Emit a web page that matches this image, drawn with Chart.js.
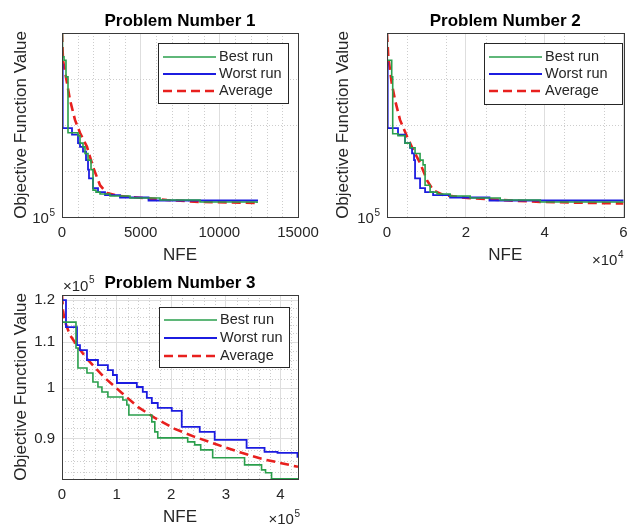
<!DOCTYPE html>
<html>
<head>
<meta charset="utf-8">
<script src="https://cdn.jsdelivr.net/npm/chart.js@4.4.1/dist/chart.umd.min.js"></script>
<style>
  html, body { margin: 0; padding: 0; background: #fff; overflow: hidden; }
  #wrap { position: relative; width: 627px; height: 529px; overflow: hidden; }
  canvas { position: absolute; }
</style>
</head>
<body>
<div id="wrap">
  <canvas id="p1" width="330" height="270" style="left:0px;top:0px"></canvas>
  <canvas id="p2" width="340" height="275" style="left:313px;top:0px"></canvas>
  <canvas id="p3" width="330" height="267" style="left:0px;top:262px"></canvas>
</div>
<script>
// ---- Problem 1 ----
const p1BestX = [0, 32, 127, 254, 381, 1017, 1144, 1335, 1462, 1653, 1844, 1971, 2161, 2416, 3051, 4323, 6230, 8773, 12400];
const p1BestY = [120000, 117200, 116800, 114900, 108700, 108400, 107600, 107200, 106500, 105800, 104800, 102700, 102500, 102300, 102100, 101900, 101700, 101500, 101400];
const p1WorstX = [0, 45, 636, 1017, 1144, 1335, 1526, 1653, 1716, 1971, 2289, 2734, 3687, 5500, 12400];
const p1WorstY = [116300, 109200, 108500, 107600, 107200, 106700, 105800, 104800, 103900, 102900, 102500, 102200, 101950, 101650, 101550];
const p1AvgX = [0, 64, 318, 509, 826, 1144, 1589, 1971, 2416, 2861, 3687, 5149, 6675, 8773, 12400];
const p1AvgY = [120000, 116800, 114200, 112300, 110100, 108700, 107200, 105100, 103200, 102400, 102100, 101900, 101700, 101500, 101400];

// ---- Problem 2 ----
const p2BestX = [0, 76, 1195, 1449, 2796, 4576, 5847, 7118, 8389, 9151, 9660, 10931, 12710, 16015, 21099, 28725, 38893, 60000];
const p2BestY = [120000, 116800, 114900, 108600, 108400, 107600, 107100, 106500, 105800, 105300, 103200, 102500, 102300, 102100, 101900, 101700, 101500, 101400];
const p2WorstX = [0, 178, 2796, 4576, 5847, 6355, 6863, 7118, 8389, 9660, 11693, 16015, 26000, 60000];
const p2WorstY = [116500, 109200, 108500, 107600, 107100, 106500, 105800, 103900, 102900, 102500, 102200, 101950, 101650, 101550];
const p2AvgX = [0, 330, 1195, 2034, 3305, 5084, 6609, 8389, 10168, 11693, 14235, 20336, 28725, 38893, 60000];
const p2AvgY = [120000, 117200, 114200, 112300, 110100, 108300, 106900, 105500, 103700, 102700, 102200, 101900, 101700, 101500, 101350];

// ---- Problem 3 ----
const p3BestX = [0, 300, 25600, 29200, 45700, 56600, 65800, 73100, 84000, 111400, 118700, 122400, 164400, 169900, 175300, 230100, 242900, 253900, 275800, 334200, 365300, 372600, 383600, 432000];
const p3BestY = [120000, 114660, 108650, 104240, 103180, 101260, 100220, 99190, 98170, 97560, 96550, 94570, 93220, 91310, 90180, 89440, 88880, 87960, 86520, 85270, 84390, 83870, 82850, 82850];
const p3WorstX = [0, 7300, 27400, 32900, 45700, 65800, 84000, 93200, 100500, 137000, 147900, 155300, 164400, 175300, 200900, 219200, 252100, 279500, 337900, 370800, 394500, 431000];
const p3WorstY = [120000, 113470, 109320, 108200, 105990, 104890, 103810, 102740, 101050, 100220, 99190, 97970, 96950, 95950, 95360, 92260, 91310, 89810, 88340, 87600, 87420, 86520];
const p3AvgX = [0, 1800, 4600, 9100, 14600, 29200, 47500, 78500, 109600, 138800, 169900, 206400, 242900, 279500, 328800, 365300, 432000];
const p3AvgY = [121200, 117540, 115130, 113470, 111610, 108880, 105990, 102110, 98990, 96160, 93990, 91870, 90370, 89070, 87420, 86340, 84920];

// ---- ticks ----
const p1XTicks = [0, 5000, 10000, 15000];
const p1XLabels = ['0', '5000', '10000', '15000'];
const p2XTicks = [0, 20000, 40000, 60000];
const p2XLabels = ['0', '2', '4', '6'];
const p3XTicks = [0, 100000, 200000, 300000, 400000];
const p3XLabels = ['0', '1', '2', '3', '4'];
const p12YTicks = [100000];
const p3YTicks = [90000, 100000, 110000, 120000];
const p3YLabels = ['0.9', '1', '1.1', '1.2'];

const p1XMinor = [1000, 2000, 3000, 4000, 6000, 7000, 8000, 9000, 11000, 12000, 13000, 14000];
const p2XMinor = [5000, 15000, 25000, 35000, 45000, 55000];
const p3XMinor = [20000, 40000, 60000, 80000, 120000, 140000, 160000, 180000, 220000, 240000, 260000, 280000, 320000, 340000, 360000, 380000, 420000];
const p12YMinor = [104660, 109540, 114650];
const p3YMinor = [84000, 86000, 88000, 92000, 94000, 96000, 98000, 102000, 104000, 106000, 108000, 112000, 114000, 116000, 118000];

const FONT = '"Liberation Sans", Arial, Helvetica, sans-serif';
const AXIS_COLOR = '#262626';
const GREEN = '#2a9f4c';
const BLUE = '#1c1ce0';
const RED = '#e8201e';

Chart.defaults.font.family = FONT;
Chart.defaults.color = AXIS_COLOR;

function toPoints(xs, ys) {
  return xs.map((x, i) => ({ x: x, y: ys[i] }));
}

// draws "10" with a raised exponent, x is left or right edge, y the middle of the base
function drawPower(ctx, base, exp, x, y, align) {
  ctx.save();
  ctx.fillStyle = AXIS_COLOR;
  ctx.textBaseline = 'middle';
  ctx.textAlign = 'left';
  ctx.font = '15px ' + FONT;
  const bw = ctx.measureText(base).width;
  ctx.font = '10px ' + FONT;
  const ew = ctx.measureText(exp).width;
  const x0 = align === 'right' ? x - bw - ew - 0.5 : x;
  ctx.font = '15px ' + FONT;
  ctx.fillText(base, x0, y);
  ctx.font = '10px ' + FONT;
  ctx.fillText(exp, x0 + bw + 0.5, y - 6);
  ctx.restore();
}

const matlabAxes = {
  id: 'matlabAxes',
  beforeDatasetsDraw(chart, args, opts) {
    const { ctx, chartArea: a, scales } = chart;
    ctx.save();
    ctx.strokeStyle = '#cdcdcd';
    ctx.lineWidth = 1;
    ctx.setLineDash([1, 2]);
    ctx.beginPath();
    (opts.xMinor || []).forEach(v => {
      const px = Math.round(scales.x.getPixelForValue(v)) + 0.5;
      ctx.moveTo(px, a.top); ctx.lineTo(px, a.bottom);
    });
    (opts.yMinor || []).forEach(v => {
      const py = Math.round(scales.y.getPixelForValue(v)) + 0.5;
      ctx.moveTo(a.left, py); ctx.lineTo(a.right, py);
    });
    ctx.stroke();
    ctx.restore();
  },
  afterDraw(chart, args, opts) {
    const { ctx, chartArea: a, scales } = chart;
    ctx.save();
    ctx.strokeStyle = '#3a3a3a';
    ctx.lineWidth = 1;
    ctx.strokeRect(Math.round(a.left) + 0.5, Math.round(a.top) + 0.5,
      Math.round(a.right - a.left), Math.round(a.bottom - a.top));

    // legend box
    const lg = opts.legend;
    const lx = Math.round(a.right - lg.right - lg.width);
    const ly = Math.round(a.top + lg.top);
    ctx.fillStyle = '#fff';
    ctx.fillRect(lx, ly, lg.width, lg.height);
    ctx.strokeStyle = '#262626';
    ctx.strokeRect(lx + 0.5, ly + 0.5, lg.width, lg.height);
    chart.data.datasets.forEach((ds, i) => {
      const ry = ly + lg.rows[i];
      ctx.beginPath();
      ctx.strokeStyle = ds.borderColor;
      ctx.lineWidth = ds.borderWidth;
      ctx.setLineDash(ds.borderDash || []);
      ctx.moveTo(lx + 5, ry);
      ctx.lineTo(lx + 58, ry);
      ctx.stroke();
      ctx.setLineDash([]);
      ctx.fillStyle = AXIS_COLOR;
      ctx.font = '14.5px ' + FONT;
      ctx.textBaseline = 'middle';
      ctx.textAlign = 'left';
      ctx.fillText(ds.label, lx + 61, ry);
    });
    ctx.restore();

    (opts.powers || []).forEach(p => {
      if (p.kind === 'ytick') {
        drawPower(ctx, p.base, p.exp, a.left - 7, scales.y.getPixelForValue(p.value) + 2, 'right');
      } else if (p.kind === 'xfactor') {
        drawPower(ctx, p.base, p.exp, a.right + p.dx, a.bottom + p.dy, 'right');
      } else {
        drawPower(ctx, p.base, p.exp, a.left + p.dx, a.top + p.dy, 'left');
      }
    });
  }
};

function makeChart(id, cfg) {
  return new Chart(document.getElementById(id), {
    type: 'line',
    data: {
      datasets: [
        { label: 'Best run', data: toPoints(cfg.best[0], cfg.best[1]), borderColor: GREEN,
          borderWidth: 1.6, stepped: true, pointRadius: 0, fill: false },
        { label: 'Worst run', data: toPoints(cfg.worst[0], cfg.worst[1]), borderColor: BLUE,
          borderWidth: 1.8, stepped: true, pointRadius: 0, fill: false },
        { label: 'Average', data: toPoints(cfg.avg[0], cfg.avg[1]), borderColor: RED,
          borderWidth: 2.6, borderDash: [9, 5], tension: 0, pointRadius: 0, fill: false }
      ]
    },
    options: {
      responsive: false,
      animation: false,
      events: [],
      layout: { padding: cfg.padding },
      plugins: {
        legend: { display: false },
        tooltip: { enabled: false },
        title: {
          display: true, text: cfg.title, fullSize: false, color: '#000',
          font: { size: 17, weight: 'bold' }, padding: { top: 11.5, bottom: 1.1 }
        },
        matlabAxes: { xMinor: cfg.xMinor, yMinor: cfg.yMinor, legend: cfg.legend, powers: cfg.powers }
      },
      scales: {
        x: {
          type: 'linear', min: cfg.xMin, max: cfg.xMax,
          afterBuildTicks: s => { s.ticks = cfg.xTicks.map(v => ({ value: v })); },
          afterFit: s => { s.height = 48.2; },
          ticks: {
            callback: (v, i) => cfg.xLabels[i], padding: 7, maxRotation: 0, autoSkip: false,
            color: AXIS_COLOR, font: { size: 15 }
          },
          grid: { color: '#dedede', drawTicks: false },
          border: { display: false },
          title: { display: true, text: 'NFE', color: AXIS_COLOR, font: { size: 17 }, padding: 0 }
        },
        y: {
          type: 'logarithmic', min: cfg.yMin, max: cfg.yMax,
          afterBuildTicks: s => { s.ticks = cfg.yTicks.map(v => ({ value: v })); },
          afterFit: s => { s.width = cfg.yWidth; },
          ticks: {
            callback: (v, i) => cfg.yLabels ? cfg.yLabels[i] : '', padding: 7, autoSkip: false,
            color: AXIS_COLOR, font: { size: 15 }
          },
          grid: { color: '#dedede', drawTicks: false },
          border: { display: false },
          title: { display: true, text: 'Objective Function Value', color: AXIS_COLOR, font: { size: 17 }, padding: 0 }
        }
      }
    },
    plugins: [matlabAxes]
  });
}

makeChart('p1', {
  title: 'Problem Number 1',
  best: [p1BestX, p1BestY], worst: [p1WorstX, p1WorstY], avg: [p1AvgX, p1AvgY],
  xMin: 0, xMax: 15000, xTicks: p1XTicks, xLabels: p1XLabels, xMinor: p1XMinor,
  yMin: 100000, yMax: 120000, yTicks: p12YTicks, yLabels: null, yMinor: p12YMinor,
  yWidth: 51.2,
  padding: { left: 10.8, top: 0, right: 32, bottom: 4.8 },
  legend: { right: 10, top: 10, width: 130, height: 60, rows: [14, 31, 48] },
  powers: [{ kind: 'ytick', value: 100000, base: '10', exp: '5' }]
});

makeChart('p2', {
  title: 'Problem Number 2',
  best: [p2BestX, p2BestY], worst: [p2WorstX, p2WorstY], avg: [p2AvgX, p2AvgY],
  xMin: 0, xMax: 60000, xTicks: p2XTicks, xLabels: p2XLabels, xMinor: p2XMinor,
  yMin: 100000, yMax: 120000, yTicks: p12YTicks, yLabels: null, yMinor: p12YMinor,
  yWidth: 53.7,
  padding: { left: 20.3, top: 0, right: 29.5, bottom: 9.8 },
  legend: { right: 2, top: 10, width: 138, height: 61, rows: [14, 31, 48] },
  powers: [
    { kind: 'ytick', value: 100000, base: '10', exp: '5' },
    { kind: 'xfactor', base: '×10', exp: '4', dx: 0, dy: 44 }
  ]
});

makeChart('p3', {
  title: 'Problem Number 3',
  best: [p3BestX, p3BestY], worst: [p3WorstX, p3WorstY], avg: [p3AvgX, p3AvgY],
  xMin: 0, xMax: 432000, xTicks: p3XTicks, xLabels: p3XLabels, xMinor: p3XMinor,
  yMin: 82800, yMax: 121300, yTicks: p3YTicks, yLabels: p3YLabels, yMinor: p3YMinor,
  yWidth: 51.2,
  padding: { left: 10.8, top: 0, right: 32, bottom: 1.8 },
  legend: { right: 9, top: 12, width: 130, height: 60, rows: [13, 31, 49] },
  powers: [
    { kind: 'yfactor', base: '×10', exp: '5', dx: 1, dy: -8.5 },
    { kind: 'xfactor', base: '×10', exp: '5', dx: 2, dy: 41 }
  ]
});
</script>
</body>
</html>
